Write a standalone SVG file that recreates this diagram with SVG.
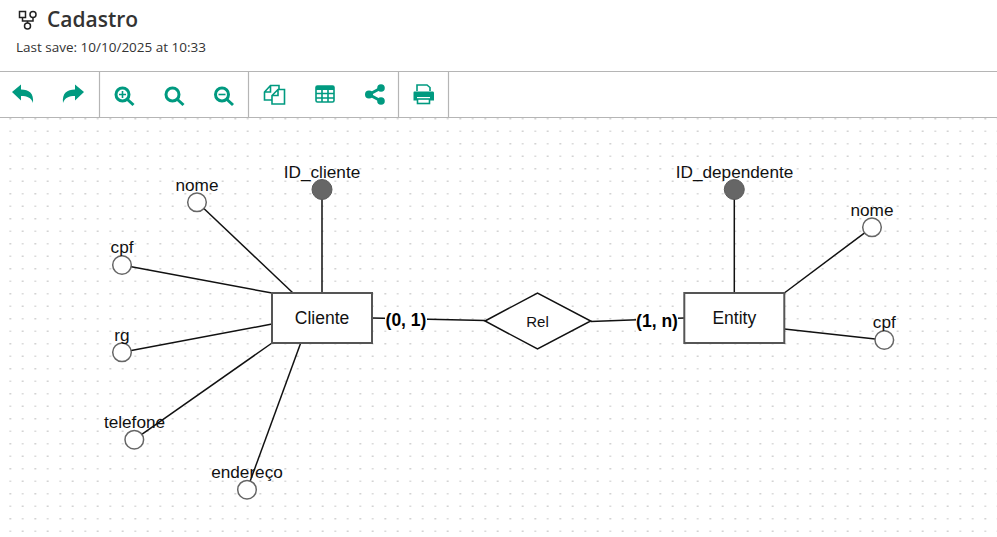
<svg xmlns="http://www.w3.org/2000/svg" width="997" height="537" viewBox="0 0 997 537">
<style>
.er{font-family:"Liberation Sans",Arial,sans-serif;fill:#111}
.attr{font-size:17.2px;text-anchor:middle}
.ent{font-size:17.5px;text-anchor:middle}
.card{font-size:17.5px;font-weight:700;text-anchor:middle;fill:#000}
.oc{fill:#fff;stroke:#666;stroke-width:1.5}
.key{fill:#666;stroke:#5a5a5a;stroke-width:1}
.box{fill:#fff;stroke:#555;stroke-width:2}
.ln{stroke:#111;stroke-width:1.5;fill:none}
.ui{font-family:"Open Sans","Noto Sans",sans-serif;fill:#333}
.sep{stroke:#b5b5b5;stroke-width:1.2}
.ic{fill:#009a80}
.ics{fill:none;stroke:#009a80;stroke-width:3}
.ict{fill:none;stroke:#009a80;stroke-width:1.6}
</style>
<defs>
<pattern id="dots" x="9.5" y="118" width="25" height="25" patternUnits="userSpaceOnUse">
<rect x="0" y="0" width="1.5" height="1.5" fill="#c4c4c4"/>
<rect x="12.500" y="0" width="1.5" height="1.5" fill="#cfcfcf"/>
<rect x="0" y="12.500" width="1.5" height="1.5" fill="#cfcfcf"/>
<rect x="12.500" y="12.500" width="1.5" height="1.5" fill="#c4c4c4"/>
</pattern>
</defs>
<rect width="997" height="537" fill="#fff"/>
<rect y="118" width="997" height="419" fill="url(#dots)"/>

<g id="header">
<g fill="none" stroke="#222" stroke-width="1.5">
<rect x="19.500" y="11.500" width="6" height="6"/><circle cx="33" cy="14.500" r="3"/><circle cx="27.500" cy="26" r="3"/>
<path d="M22.500 17.500V21H33V17.500M27.500 21V23"/>
</g>
<text class="ui" x="47" y="27" font-size="21" font-weight="600">Cadastro</text>
<text class="ui" x="16" y="52" font-size="13.500">Last save: 10/10/2025 at 10:33</text>
</g>

<g id="toolbar">
<path class="sep" d="M0 71.500H997M0 117.500H997M99.500 71.500V117.500M248.500 71.500V117.500M398.500 71.500V117.500M448.500 71.500V117.500"/>
<path class="ic" d="M12 92L21 84.500V89.500C29 89.500 34 93 33 103C31 97.500 27 96 21 96V100.500Z"/>
<path class="ic" d="M84 92L75 84.500V89.500C67 89.500 62 93 63 103C65 97.500 69 96 75 96V100.500Z"/>
<g id="zoomin"><circle class="ics" cx="122.500" cy="94.500" r="6.500"/><path class="ics" d="M127.500 99.500L133.500 105"/><path class="ict" d="M122.500 91V98M119 94.500H126"/></g>
<g id="zoomfit"><circle class="ics" cx="172.500" cy="94.500" r="6.500"/><path class="ics" d="M177.500 99.500L183.500 105"/></g>
<g id="zoomout"><circle class="ics" cx="222" cy="94.500" r="6.500"/><path class="ics" d="M227 99.500L233 105"/><path class="ict" d="M218.500 94.500H225.500"/></g>
<g id="copy"><path class="ict" d="M272 100H264.500V92L270.500 85.500H279V90M270.500 85.500V92H264.500"/><path class="ict" d="M278 89.500H284.500V104H272V95.500ZM278 89.500V95.500H272"/></g>
<g id="table"><rect x="316" y="86" width="18" height="16" rx="1.500" class="ict"/><path class="ic" d="M316 86H334V90H316Z"/><path class="ict" d="M316 93.500H334M316 98H334M322 90V102M328 90V102" stroke-width="1.200"/></g>
<g id="share"><circle class="ic" cx="381" cy="88" r="3.800"/><circle class="ic" cx="381" cy="101" r="3.800"/><circle class="ic" cx="369" cy="94.500" r="4"/><path class="ics" d="M381 88L369 94.500L381 101"/></g>
<g id="print"><path class="ict" d="M417 91V85H427L430 87.500V91" stroke-width="2"/><path class="ic" d="M414 91.500H433Q434 91.500 434 93V100.500H430V97H417V100.500H413.500V93Q413.500 91.500 414 91.500Z"/><rect x="417.500" y="99" width="12" height="4.500" class="ict" stroke-width="2"/></g>
</g>

<g id="connectors">
<path class="ln" d="M197 202L293 293"/>
<path class="ln" d="M122 265L272 293"/>
<path class="ln" d="M122 352.300L272 324"/>
<path class="ln" d="M134.300 439.700L272 343"/>
<path class="ln" d="M247 489.700L300.700 343"/>
<path class="ln" d="M322 190V293"/>
<path class="ln" d="M734.300 190V293"/>
<path class="ln" d="M872 227.300L784.300 293"/>
<path class="ln" d="M884.300 340L784.300 329"/>
<path class="ln" d="M372 318L485 320.500"/>
<path class="ln" d="M590.700 321.500L684.300 318"/>
</g>

<g id="card-left"><rect x="385" y="309" width="42" height="21" fill="#fff"/><text class="er card" x="406" y="326">(0, 1)</text></g>
<g id="card-right"><rect x="636" y="311" width="42" height="21" fill="#fff"/><text class="er card" x="657" y="327">(1, n)</text></g>

<g id="cliente"><rect class="box" x="272" y="293" width="100" height="50"/><text class="er ent" x="322" y="324">Cliente</text></g>
<g id="entity"><rect class="box" x="684.300" y="293" width="100" height="50"/><text class="er ent" x="734.300" y="324">Entity</text></g>
<g id="rel"><path d="M485 321L537.500 293L590.700 321L537.500 349Z" fill="#fff" stroke="#111" stroke-width="1.500"/><text class="er" x="537.500" y="327" font-size="15" text-anchor="middle">Rel</text></g>

<g id="attr-nome"><circle class="oc" cx="197" cy="202.300" r="9.300"/><text class="er attr" x="197" y="191">nome</text></g>
<g id="attr-id-cliente"><circle class="key" cx="322" cy="189.500" r="10"/><text class="er attr" x="322" y="178">ID_cliente</text></g>
<g id="attr-cpf"><circle class="oc" cx="122" cy="265" r="9.300"/><text class="er attr" x="122" y="253">cpf</text></g>
<g id="attr-rg"><circle class="oc" cx="122" cy="352.300" r="9.300"/><text class="er attr" x="122" y="341">rg</text></g>
<g id="attr-telefone"><circle class="oc" cx="134.300" cy="439.700" r="9.300"/><text class="er attr" x="134.500" y="428">telefone</text></g>
<g id="attr-endereco"><circle class="oc" cx="247" cy="489.700" r="9.300"/><text class="er attr" x="247" y="478">endereço</text></g>
<g id="attr-id-dependente"><circle class="key" cx="734.300" cy="189.500" r="10"/><text class="er attr" x="734.500" y="178">ID_dependente</text></g>
<g id="attr-nome2"><circle class="oc" cx="872" cy="227.300" r="9.300"/><text class="er attr" x="872" y="216">nome</text></g>
<g id="attr-cpf2"><circle class="oc" cx="884.300" cy="340" r="9.300"/><text class="er attr" x="884.300" y="328">cpf</text></g>
</svg>
